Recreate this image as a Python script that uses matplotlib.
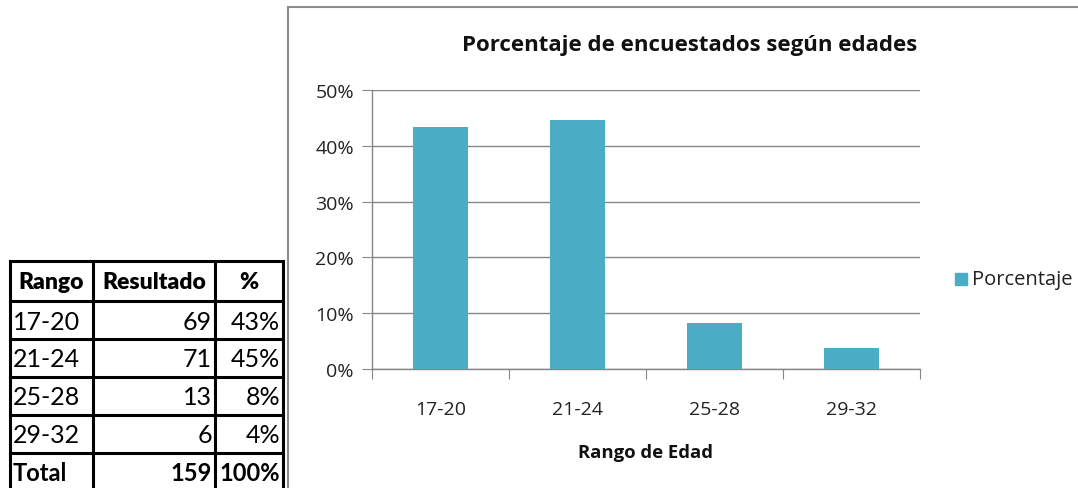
import matplotlib
matplotlib.use("Agg")
import matplotlib.pyplot as plt
from matplotlib.patches import Rectangle
from matplotlib.lines import Line2D

# ---- data ----
categories = ["17-20", "21-24", "25-28", "29-32"]
counts = [69, 71, 13, 6]
total = sum(counts)
percent = [c / total * 100 for c in counts]
yticks = [0, 10, 20, 30, 40, 50]
title = "Porcentaje de encuestados según edades"
xlabel = "Rango de Edad"
series_name = "Porcentaje"
table_header = ["Rango", "Resultado", "%"]

W, H = 1078, 489
fig = plt.figure(figsize=(W / 100, H / 100), dpi=100)
fig.patch.set_facecolor("white")

def fx(x):
    return x / W

def fy(y):
    return 1 - y / H

chart_font = ["Open Sans", "DejaVu Sans"]
body_font = ["Lato", "DejaVu Sans"]
head_font = ["Lato", "DejaVu Sans"]
bar_color = "#4BACC6"
grid_color = "#868686"

# chart frame (extends beyond canvas right/bottom)
fig.add_artist(Line2D([fx(288), fx(288)], [fy(8), fy(495)], color="#8c8c8c", lw=1.5,
                      transform=fig.transFigure))
fig.add_artist(Line2D([fx(288), fx(1085)], [fy(8), fy(8)], color="#8c8c8c", lw=1.5,
                      transform=fig.transFigure))

# axes
x0, x1, ytop, ybot = 372, 920, 91, 370
ax = fig.add_axes([fx(x0), fy(ybot), (x1 - x0) / W, (ybot - ytop) / H])
xs = list(range(len(categories)))
ax.bar(xs, percent, width=0.4, color=bar_color, zorder=3)
ax.set_xlim(-0.5, len(categories) - 0.5)
ax.set_ylim(0, 50)
ax.set_yticks(yticks)
ax.set_yticklabels([f"{v}%" for v in yticks], fontfamily=chart_font, fontsize=14, color="#222222")
ax.yaxis.grid(True, color=grid_color, lw=1)
ax.set_axisbelow(True)
ax.set_xticks([x - 0.5 for x in range(len(categories) + 1)])
ax.set_xticklabels([])
ax.set_xticks(xs, minor=True)
ax.set_xticklabels(categories, minor=True, fontfamily=chart_font, fontsize=14, color="#222222")
ax.tick_params(axis="x", which="major", length=7, color=grid_color, direction="out")
ax.tick_params(axis="x", which="minor", length=0, pad=22)
ax.tick_params(axis="y", length=7, color=grid_color, direction="out", pad=6)
for s in ["top", "right"]:
    ax.spines[s].set_visible(False)
for s in ["left", "bottom"]:
    ax.spines[s].set_color(grid_color)
    ax.spines[s].set_linewidth(1)

fig.text(fx(690), fy(45), title, ha="center", va="center", fontsize=16, fontweight="bold",
         family=chart_font, color="#111111")
fig.text(fx(646), fy(453), xlabel, ha="center", va="center", fontsize=13.3, fontweight="bold",
         family=chart_font, color="#111111")

# legend
fig.add_artist(Rectangle((fx(955), fy(286)), 12 / W, 12 / H, color=bar_color,
                         transform=fig.transFigure))
fig.text(fx(972), fy(280), series_name, ha="left", va="center", fontsize=14.5,
         family=chart_font, color="#222222")

# ---- table ----
cols = [10, 93, 215, 283]
rows = [262, 302, 340, 378, 416, 454, 492]
for cx in cols:
    fig.add_artist(Line2D([fx(cx), fx(cx)], [fy(rows[0]), fy(rows[-1])], color="black", lw=2.2,
                          transform=fig.transFigure))
for ry in rows[:-1]:
    fig.add_artist(Line2D([fx(cols[0]), fx(cols[-1])], [fy(ry), fy(ry)], color="black", lw=2.2,
                          transform=fig.transFigure))

def cell(r, c, text, align, bold=False, header=False):
    yc = (rows[r] + rows[r + 1]) / 2 + 1
    if align == "center":
        xp, ha = (cols[c] + cols[c + 1]) / 2, "center"
    elif align == "left":
        xp, ha = cols[c] + 3, "left"
    else:
        xp, ha = cols[c + 1] - 3, "right"
    if header:
        fig.text(fx(xp), fy(yc), text, ha=ha, va="center", fontsize=16.5,
                 fontweight="heavy", family=head_font, color="black")
    else:
        fig.text(fx(xp), fy(yc), text, ha=ha, va="center", fontsize=17 if bold else 18,
                 fontweight="bold" if bold else "normal", family=body_font, color="black")

for i, h in enumerate(table_header):
    cell(0, i, h, "center", header=True)
for i, cat in enumerate(categories):
    cell(i + 1, 0, cat, "left")
    cell(i + 1, 1, str(counts[i]), "right")
    cell(i + 1, 2, f"{round(percent[i])}%", "right")
cell(5, 0, "Total", "left", bold=True)
cell(5, 1, str(total), "right", bold=True)
cell(5, 2, f"{round(sum(percent))}%", "right", bold=True)

fig.savefig("out.png", dpi=100)
